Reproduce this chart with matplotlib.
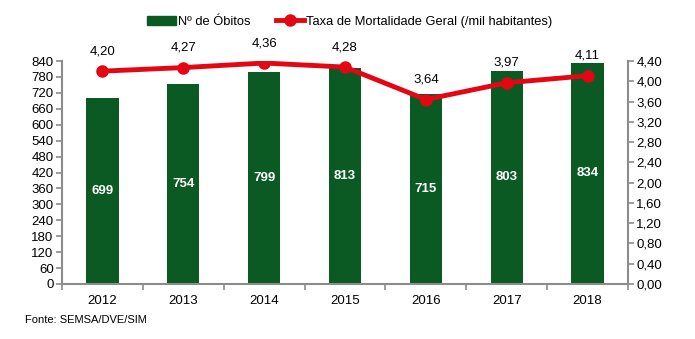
import matplotlib
matplotlib.use("Agg")
import matplotlib.pyplot as plt
from matplotlib.patches import Patch
import numpy as np

plt.rcParams['font.family'] = ['Liberation Sans', 'DejaVu Sans']

# Data
years = ['2012', '2013', '2014', '2015', '2016', '2017', '2018']
obitos = [699, 754, 799, 813, 715, 803, 834]
taxa = [4.20, 4.27, 4.36, 4.28, 3.64, 3.97, 4.11]
left_ticks = list(range(0, 841, 60))
right_ticks = [0.0, 0.4, 0.8, 1.2, 1.6, 2.0, 2.4, 2.8, 3.2, 3.6, 4.0, 4.4]

GREEN = '#0B5A24'
RED = '#E30613'
GRAY = '#8C8C8C'


def br(v):
    return f'{v:.2f}'.replace('.', ',')


fig = plt.figure(figsize=(6.95, 3.39), dpi=100)
ax = fig.add_axes([62 / 695, 1 - 284 / 339, 566 / 695, 223 / 339])
x = np.arange(len(years))

ax.bar(x, obitos, width=0.4, color=GREEN, zorder=2)
for xi, v in zip(x, obitos):
    ax.text(xi, v / 2, str(v), ha='center', va='center', color='white',
            fontsize=9.5, fontweight='bold', zorder=3)

ax.set_xlim(-0.5, len(years) - 0.5)
ax.set_ylim(0, 840)
ax.set_yticks(left_ticks)
ax.set_xticks(x)
ax.set_xticklabels(years, fontsize=9.5)
ax.set_xticks(np.arange(-0.5, len(years)), minor=True)
ax.tick_params(axis='x', which='major', length=0, pad=8)
ax.tick_params(axis='x', which='minor', length=4, color=GRAY, width=1.2)
ax.tick_params(axis='y', labelsize=9.5, length=4, color=GRAY, width=1.2, pad=2)
for s in ['top', 'right']:
    ax.spines[s].set_visible(False)
for s in ['left', 'bottom']:
    ax.spines[s].set_color(GRAY)
    ax.spines[s].set_linewidth(1.5)

ax2 = ax.twinx()
ax2.set_ylim(0, 4.4)
ax2.set_yticks(right_ticks)
ax2.set_yticklabels([br(t) for t in right_ticks])
ax2.tick_params(axis='y', labelsize=9.5, length=4, color=GRAY, width=1.2, pad=2)
for s in ['top', 'left', 'bottom']:
    ax2.spines[s].set_visible(False)
ax2.spines['right'].set_color(GRAY)
ax2.spines['right'].set_linewidth(1.5)
line, = ax2.plot(x, taxa, color=RED, lw=3.5, marker='o', markersize=8,
                 zorder=4)
for xi, v in zip(x, taxa):
    ax2.annotate(br(v), (xi, v), xytext=(0, 10), textcoords='offset points',
                 ha='center', va='bottom', fontsize=9.5)

fig.legend([Patch(color=GREEN), line],
           ['Nº de Óbitos', 'Taxa de Mortalidade Geral (/mil habitantes)'],
           loc='center', bbox_to_anchor=(350 / 695, 1 - 22 / 339), ncol=2,
           frameon=False, fontsize=9.3, handlelength=2.2, columnspacing=2.0,
           handletextpad=0.15)

fig.text(25 / 695, 1 - 320 / 339, 'Fonte: SEMSA/DVE/SIM', fontsize=8,
         va='center', ha='left')

fig.savefig('out.png', dpi=100)
